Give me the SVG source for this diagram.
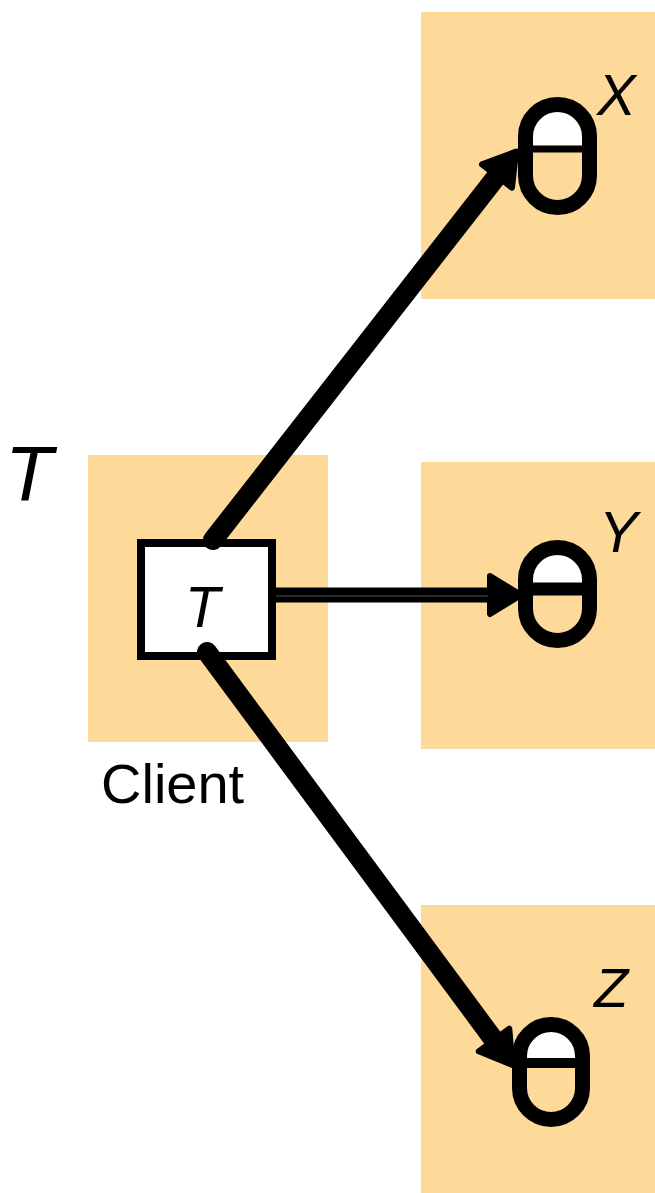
<svg xmlns="http://www.w3.org/2000/svg" width="655" height="1193" viewBox="0 0 655 1193">
  <style>
    .bg { fill: #FDDA9A; }
    .lbl { font-family: "Liberation Sans", Arial, sans-serif; fill: #000; }
    .it { font-style: italic; }
    .conn { fill: none; stroke: #000; stroke-width: 20; stroke-linecap: round; }
    .conn-h { fill: none; stroke: #000; stroke-width: 15; stroke-linecap: butt; }
    .pill { fill: none; stroke: #000; stroke-width: 15; }
    .cap { fill: #fff; }
    .bar { stroke: #000; }
  </style>
  <defs>
    <marker id="arrow" markerUnits="userSpaceOnUse" viewBox="-6 -26 46 52" markerWidth="46" markerHeight="52" refX="0" refY="0" orient="auto">
      <path d="M0,-19 L31,0 L0,19 Z" fill="#000" stroke="#000" stroke-width="6" stroke-linejoin="round"/>
    </marker>
  </defs>
  <rect width="655" height="1193" fill="#fff"/>

  <g id="zones">
    <rect class="bg" x="88" y="455" width="240" height="287"/>
    <rect class="bg" x="421" y="12" width="234" height="287"/>
    <rect class="bg" x="421" y="462" width="234" height="287"/>
    <rect class="bg" x="421" y="905" width="234" height="288"/>
  </g>

  <text id="title" class="lbl it" x="5" y="501" font-size="78">T</text>

  <g id="client">
    <rect x="141" y="543" width="131" height="113" fill="#fff" stroke="#000" stroke-width="8"/>
    <text class="lbl it" x="185" y="627" font-size="57">T</text>
    <text class="lbl" x="101" y="803" font-size="56">Client</text>
  </g>

  <g id="connectors">
    <path class="conn" d="M213,540 L497,176" marker-end="url(#arrow)"/>
    <path class="conn-h" d="M276,595 H490" marker-end="url(#arrow)"/>
    <line x1="276" y1="596" x2="488" y2="596" stroke="#555" stroke-width="1"/>
    <path class="conn" d="M207,652 L494,1040" marker-end="url(#arrow)"/>
  </g>

  <g id="db-x">
    <path class="cap" d="M533,146 V136.5 A24.5,24.5 0 0 1 582,136.5 V146 Z"/>
    <rect class="pill" x="525.5" y="104.5" width="64" height="103" rx="32"/>
    <line class="bar" x1="520" y1="149" x2="595" y2="149" stroke-width="7"/>
    <text class="lbl it" x="597" y="115" font-size="58">X</text>
  </g>

  <g id="db-y">
    <path class="cap" d="M533,583 V579.5 A24.5,24.5 0 0 1 582,579.5 V583 Z"/>
    <rect class="pill" x="525.5" y="547.5" width="64" height="93" rx="32"/>
    <line class="bar" x1="520" y1="589" x2="595" y2="589" stroke-width="13"/>
    <text class="lbl it" x="599" y="552" font-size="58">Y</text>
  </g>

  <g id="db-z">
    <path class="cap" d="M527,1059 V1056 A24,24 0 0 1 575,1056 V1059 Z"/>
    <rect class="pill" x="519.5" y="1024.5" width="63" height="95" rx="31.5"/>
    <line class="bar" x1="514" y1="1063" x2="588" y2="1063" stroke-width="10"/>
    <text class="lbl it" x="594" y="1007" font-size="56">Z</text>
  </g>
</svg>
